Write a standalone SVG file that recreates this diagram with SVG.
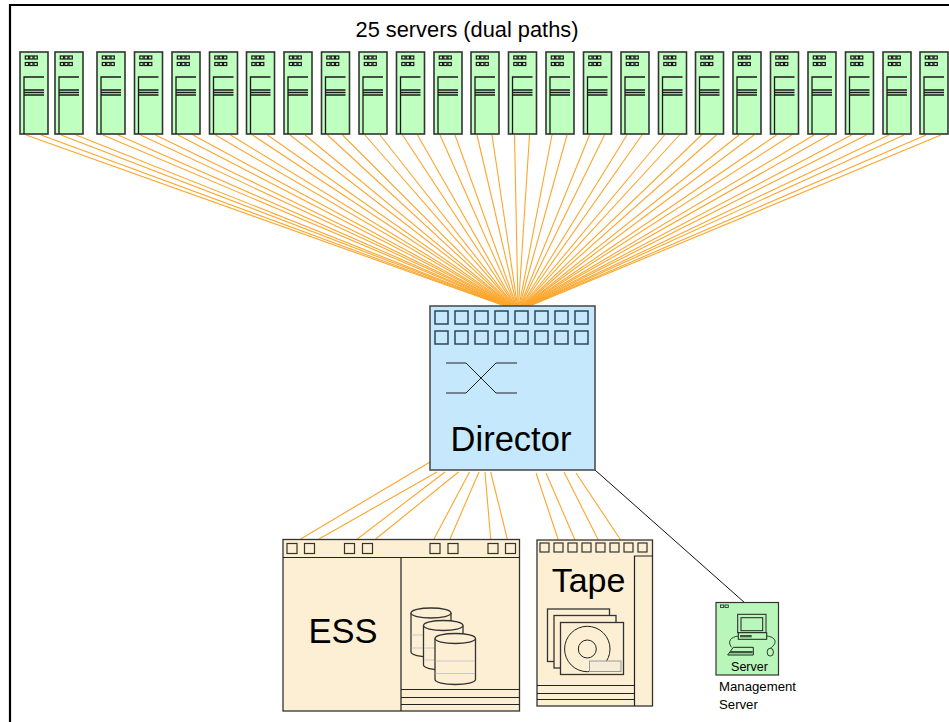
<svg xmlns="http://www.w3.org/2000/svg" xmlns:xlink="http://www.w3.org/1999/xlink" width="949" height="722" viewBox="0 0 949 722">
  <style>
    text { font-family: "Liberation Sans", Arial, Helvetica, sans-serif; fill: #000; }
    .fc line { stroke: #fca62c; stroke-width: 1.1; }
    .mgmt { stroke: #111; stroke-width: 1; }
    .frame { stroke: #000; stroke-width: 2.2; fill: none; }
    .srv-body { fill: #bfffbf; stroke: #333; stroke-width: 1.6; }
    .srv-led { fill: none; stroke: #1a1a1a; stroke-width: 1.2; }
    .srv-line { stroke: #1a1a1a; stroke-width: 1.3; fill: none; }
    .dir-body { fill: #c5e8fc; stroke: #444; stroke-width: 1.5; }
    .dir-port { fill: none; stroke: #2e4556; stroke-width: 1.5; }
    .cream { fill: #fdefd4; stroke: #333; stroke-width: 1.3; }
    .thin { stroke: #222; stroke-width: 1.2; fill: none; }
    .port { fill: #fdefd4; stroke: #333; stroke-width: 1.2; }
    .grey { stroke: #c8c8c8; stroke-width: 1; }
  </style>
  <defs>
    <!-- rack server icon, 28 x 82 -->
    <symbol id="srv" overflow="visible">
      <rect class="srv-body" x="0" y="0" width="28" height="82"/>
      <g class="srv-led">
        <rect x="5.3" y="4" width="3.3" height="3"/>
        <rect x="9.7" y="4" width="3.3" height="3"/>
        <rect x="14" y="4" width="3.3" height="3"/>
        <rect x="5.3" y="10.5" width="3.3" height="3"/>
        <rect x="9.7" y="10.5" width="3.3" height="3"/>
        <rect x="14" y="10.5" width="3.3" height="3"/>
      </g>
      <path class="srv-line" d="M4,82 V25 H24 M4,38 H24 M4,40.5 H24 M4,43 H24"/>
    </symbol>
  </defs>

  <rect x="0" y="0" width="949" height="722" fill="#fff"/>
  <path class="frame" d="M10,722 V5 H949"/>

  <text x="467" y="36.5" font-size="21.8" text-anchor="middle">25 servers (dual paths)</text>

  <!-- fibre links -->
  <g id="connectors">
    <g class="fc">
      <line x1="26" y1="135" x2="505" y2="306"/>
      <line x1="41" y1="135" x2="505.5" y2="306"/>
      <line x1="61" y1="135" x2="506" y2="306"/>
      <line x1="76" y1="135" x2="506.5" y2="306"/>
      <line x1="103" y1="135" x2="507" y2="306"/>
      <line x1="118" y1="135" x2="507.5" y2="306"/>
      <line x1="140.5" y1="135" x2="508" y2="306"/>
      <line x1="155.5" y1="135" x2="508.5" y2="306"/>
      <line x1="178" y1="135" x2="509" y2="306"/>
      <line x1="193" y1="135" x2="509.5" y2="306"/>
      <line x1="215.5" y1="135" x2="510" y2="306"/>
      <line x1="230.5" y1="135" x2="510.5" y2="306"/>
      <line x1="252.5" y1="135" x2="511" y2="306"/>
      <line x1="267.5" y1="135" x2="511.5" y2="306"/>
      <line x1="290" y1="135" x2="512" y2="306"/>
      <line x1="305" y1="135" x2="512.5" y2="306"/>
      <line x1="327.5" y1="135" x2="513" y2="306"/>
      <line x1="342.5" y1="135" x2="513.5" y2="306"/>
      <line x1="365" y1="135" x2="514" y2="306"/>
      <line x1="380" y1="135" x2="514.5" y2="306"/>
      <line x1="402.5" y1="135" x2="515" y2="306"/>
      <line x1="417.5" y1="135" x2="515.5" y2="306"/>
      <line x1="440" y1="135" x2="516" y2="306"/>
      <line x1="455" y1="135" x2="516.5" y2="306"/>
      <line x1="477" y1="135" x2="517" y2="306"/>
      <line x1="492" y1="135" x2="517.5" y2="306"/>
      <line x1="514.5" y1="135" x2="518" y2="306"/>
      <line x1="529.5" y1="135" x2="518.5" y2="306"/>
      <line x1="552" y1="135" x2="519" y2="306"/>
      <line x1="567" y1="135" x2="519.5" y2="306"/>
      <line x1="589.5" y1="135" x2="520" y2="306"/>
      <line x1="604.5" y1="135" x2="520.5" y2="306"/>
      <line x1="627" y1="135" x2="521" y2="306"/>
      <line x1="642" y1="135" x2="521.5" y2="306"/>
      <line x1="664.5" y1="135" x2="522" y2="306"/>
      <line x1="679.5" y1="135" x2="522.5" y2="306"/>
      <line x1="701.5" y1="135" x2="523" y2="306"/>
      <line x1="716.5" y1="135" x2="523.5" y2="306"/>
      <line x1="739" y1="135" x2="524" y2="306"/>
      <line x1="754" y1="135" x2="524.5" y2="306"/>
      <line x1="776.5" y1="135" x2="525" y2="306"/>
      <line x1="791.5" y1="135" x2="525.5" y2="306"/>
      <line x1="814" y1="135" x2="526" y2="306"/>
      <line x1="829" y1="135" x2="526.5" y2="306"/>
      <line x1="851.5" y1="135" x2="527" y2="306"/>
      <line x1="866.5" y1="135" x2="527.5" y2="306"/>
      <line x1="889" y1="135" x2="528" y2="306"/>
      <line x1="904" y1="135" x2="528.5" y2="306"/>
      <line x1="926" y1="135" x2="529" y2="306"/>
      <line x1="941" y1="135" x2="529.5" y2="306"/>
      <!-- director to ESS -->
      <line x1="430" y1="462" x2="300.7" y2="539"/>
      <line x1="437" y1="472" x2="319" y2="539"/>
      <line x1="445" y1="472" x2="357.3" y2="539"/>
      <line x1="458.5" y1="472" x2="375.7" y2="539"/>
      <line x1="469.5" y1="472" x2="434" y2="539"/>
      <line x1="479" y1="472" x2="450" y2="539"/>
      <line x1="485" y1="472" x2="490.7" y2="539"/>
      <line x1="490.7" y1="472" x2="507.3" y2="539"/>
      <!-- director to tape -->
      <line x1="536" y1="473" x2="558.3" y2="540"/>
      <line x1="546" y1="473" x2="575" y2="540"/>
      <line x1="564" y1="472" x2="598.3" y2="540"/>
      <line x1="576" y1="473" x2="620.7" y2="540"/>
    </g>
    <line class="mgmt" x1="595" y1="470" x2="745" y2="603"/>
  </g>

  <!-- host servers -->
  <g id="server-1"><use xlink:href="#srv" x="20" y="52"/></g>
  <g id="server-2"><use xlink:href="#srv" x="55" y="52"/></g>
  <g id="server-3"><use xlink:href="#srv" x="97" y="52"/></g>
  <g id="server-4"><use xlink:href="#srv" x="134.5" y="52"/></g>
  <g id="server-5"><use xlink:href="#srv" x="172" y="52"/></g>
  <g id="server-6"><use xlink:href="#srv" x="209.5" y="52"/></g>
  <g id="server-7"><use xlink:href="#srv" x="246.5" y="52"/></g>
  <g id="server-8"><use xlink:href="#srv" x="284" y="52"/></g>
  <g id="server-9"><use xlink:href="#srv" x="321.5" y="52"/></g>
  <g id="server-10"><use xlink:href="#srv" x="359" y="52"/></g>
  <g id="server-11"><use xlink:href="#srv" x="396.5" y="52"/></g>
  <g id="server-12"><use xlink:href="#srv" x="434" y="52"/></g>
  <g id="server-13"><use xlink:href="#srv" x="471" y="52"/></g>
  <g id="server-14"><use xlink:href="#srv" x="508.5" y="52"/></g>
  <g id="server-15"><use xlink:href="#srv" x="546" y="52"/></g>
  <g id="server-16"><use xlink:href="#srv" x="583.5" y="52"/></g>
  <g id="server-17"><use xlink:href="#srv" x="621" y="52"/></g>
  <g id="server-18"><use xlink:href="#srv" x="658.5" y="52"/></g>
  <g id="server-19"><use xlink:href="#srv" x="695.5" y="52"/></g>
  <g id="server-20"><use xlink:href="#srv" x="733" y="52"/></g>
  <g id="server-21"><use xlink:href="#srv" x="770.5" y="52"/></g>
  <g id="server-22"><use xlink:href="#srv" x="808" y="52"/></g>
  <g id="server-23"><use xlink:href="#srv" x="845.5" y="52"/></g>
  <g id="server-24"><use xlink:href="#srv" x="883" y="52"/></g>
  <g id="server-25"><use xlink:href="#srv" x="920" y="52"/></g>

  <!-- director switch -->
  <g id="director">
    <rect class="dir-body" x="430" y="306" width="165" height="164"/>
    <g class="dir-port">
      <rect x="435" y="311" width="13" height="13"/><rect x="455" y="311" width="13" height="13"/>
      <rect x="475" y="311" width="13" height="13"/><rect x="495" y="311" width="13" height="13"/>
      <rect x="515" y="311" width="13" height="13"/><rect x="535" y="311" width="13" height="13"/>
      <rect x="555" y="311" width="13" height="13"/><rect x="575" y="311" width="13" height="13"/>
      <rect x="435" y="331" width="13" height="13"/><rect x="455" y="331" width="13" height="13"/>
      <rect x="475" y="331" width="13" height="13"/><rect x="495" y="331" width="13" height="13"/>
      <rect x="515" y="331" width="13" height="13"/><rect x="535" y="331" width="13" height="13"/>
      <rect x="555" y="331" width="13" height="13"/><rect x="575" y="331" width="13" height="13"/>
    </g>
    <path d="M446,363 H466 L496,393 H517 M446,393 H466 L496,363 H517" fill="none" stroke="#222" stroke-width="1"/>
    <text x="511" y="451" font-size="34.5" text-anchor="middle">Director</text>
  </g>

  <!-- disk subsystem -->
  <g id="ess">
    <rect class="cream" x="283" y="539.5" width="236.5" height="171.5"/>
    <path class="thin" d="M283,557.5 H519.5 M401,557.5 V711 M401,689.5 H519.5 M401,697.5 H519.5 M401,704.5 H519.5"/>
    <g class="port">
      <rect x="287" y="543.5" width="10" height="10"/><rect x="304.5" y="543.5" width="10" height="10"/>
      <rect x="344.5" y="543.5" width="10" height="10"/><rect x="362.5" y="543.5" width="10" height="10"/>
      <rect x="430" y="543.5" width="10" height="10"/><rect x="448" y="543.5" width="10" height="10"/>
      <rect x="488" y="543.5" width="10" height="10"/><rect x="505.5" y="543.5" width="10" height="10"/>
    </g>
    <!-- disk stack -->
    <g>
      <path class="cream" stroke-width="1" d="M411,613 V652 A20,5 0 0 0 451,652 V613"/>
      <line class="grey" x1="411.5" y1="635" x2="450.5" y2="635"/>
      <line class="grey" x1="411.5" y1="648" x2="450.5" y2="648"/>
      <ellipse class="cream" stroke-width="1" cx="431" cy="613" rx="20" ry="5"/>
    </g>
    <g>
      <path class="cream" stroke-width="1" d="M423.5,625.5 V665 A19.75,5 0 0 0 463,665 V625.5"/>
      <line class="grey" x1="424" y1="648" x2="462.5" y2="648"/>
      <line class="grey" x1="424" y1="660" x2="462.5" y2="660"/>
      <ellipse class="cream" stroke-width="1" cx="443.25" cy="625.5" rx="19.75" ry="5"/>
    </g>
    <g>
      <path class="cream" stroke-width="1" d="M435,638.5 V679.5 A20.25,5 0 0 0 475.5,679.5 V638.5"/>
      <line class="grey" x1="435.5" y1="661" x2="475" y2="661"/>
      <line class="grey" x1="435.5" y1="673.5" x2="475" y2="673.5"/>
      <ellipse class="cream" stroke-width="1" cx="455.25" cy="638.5" rx="20.25" ry="5"/>
    </g>
    <text x="343" y="643" font-size="34.5" text-anchor="middle">ESS</text>
  </g>

  <!-- tape library -->
  <g id="tape">
    <rect class="cream" x="537" y="540" width="115.5" height="166"/>
    <path class="thin" d="M634.5,706 V556 H652.5 M537,685.5 H634.5 M537,693.5 H634.5 M537,699.5 H634.5"/>
    <g class="port">
      <rect x="540" y="543" width="9" height="9"/><rect x="554" y="543" width="9" height="9"/>
      <rect x="568" y="543" width="9" height="9"/><rect x="582" y="543" width="9" height="9"/>
      <rect x="596" y="543" width="9" height="9"/><rect x="610" y="543" width="9" height="9"/>
      <rect x="624" y="543" width="9" height="9"/><rect x="638" y="543" width="9" height="9"/>
    </g>
    <rect class="cream" stroke-width="1.2" x="547.5" y="609" width="62" height="52.5"/>
    <rect class="cream" stroke-width="1.2" x="554" y="615.5" width="62" height="52.5"/>
    <rect class="cream" stroke-width="1.2" x="560.5" y="622.5" width="63" height="52"/>
    <circle cx="587.3" cy="649" r="22.7" fill="none" stroke="#222" stroke-width="1"/>
    <circle cx="587.3" cy="649" r="9" fill="none" stroke="#222" stroke-width="1"/>
    <rect x="589.5" y="661" width="31.5" height="10.5" fill="#f6ecd8" stroke="#999" stroke-width="1"/>
    <text x="588.5" y="592" font-size="34" text-anchor="middle">Tape</text>
  </g>

  <!-- management console -->
  <g id="management-server">
    <rect x="716" y="602.5" width="62.5" height="72.5" fill="#b9f6b9" stroke="#333" stroke-width="1.2"/>
    <rect x="720.5" y="605" width="3.3" height="2.6" fill="none" stroke="#222" stroke-width="0.8"/>
    <rect x="725" y="605" width="3.3" height="2.6" fill="none" stroke="#222" stroke-width="0.8"/>
    <rect x="737.7" y="614.3" width="28.3" height="18.4" fill="#b9f6b9" stroke="#222" stroke-width="1"/>
    <rect x="741" y="617.7" width="21.7" height="13" fill="#b9f6b9" stroke="#222" stroke-width="1"/>
    <rect x="738.3" y="632.7" width="28.4" height="6.6" fill="#b9f6b9" stroke="#222" stroke-width="1"/>
    <rect x="740" y="635" width="11.7" height="2.3" fill="#3a5a3a"/>
    <path d="M733.3,647.3 H753.3 V655 H727.7 Z" fill="#b9f6b9" stroke="#222" stroke-width="1"/>
    <rect x="730" y="651" width="22.7" height="2.3" fill="#3a5a3a"/>
    <path d="M738.3,636 C731,637 727,641 731.5,647.3 M766.7,636 C776,637 778,643 770.3,648.3" fill="none" stroke="#222" stroke-width="0.9"/>
    <rect x="767.3" y="648.3" width="6" height="7.7" rx="3" fill="#b9f6b9" stroke="#222" stroke-width="0.9"/>
    <text x="749.5" y="670.5" font-size="12.5" text-anchor="middle">Server</text>
    <text x="719" y="690.5" font-size="13.2">Management</text>
    <text x="719" y="708.5" font-size="13.2">Server</text>
  </g>
</svg>
